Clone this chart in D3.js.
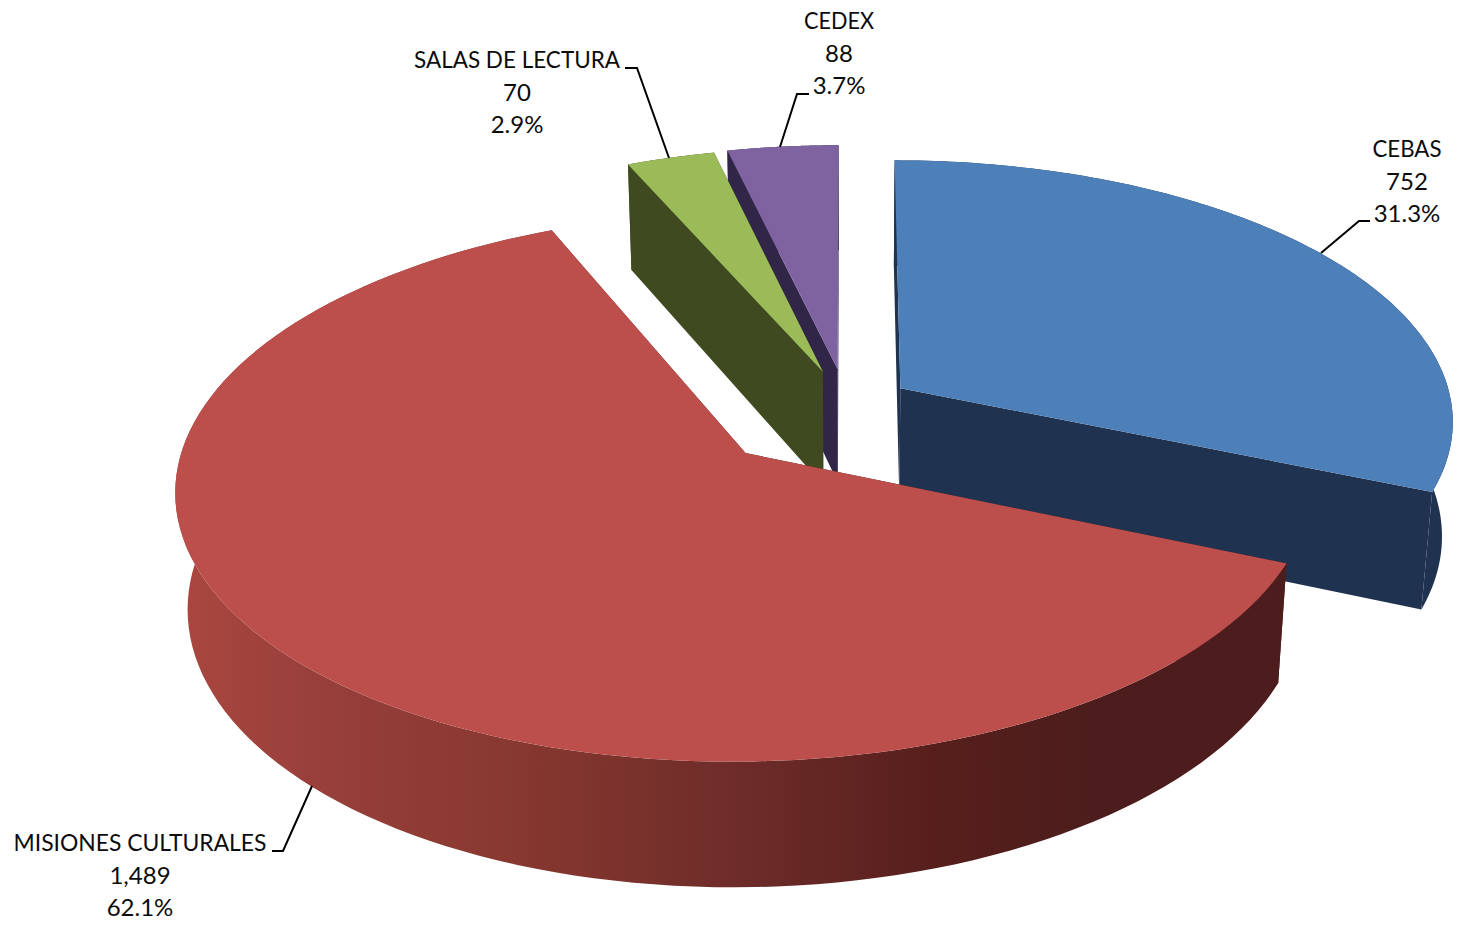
<!DOCTYPE html>
<html lang="en">
<head>
    <meta charset="UTF-8">
    <title>D3.js 3D Pie Chart</title>
    <script src="https://cdnjs.cloudflare.com/ajax/libs/d3/7.8.5/d3.min.js"></script>
    <style>
        body { margin: 0; background: white; }
        text { font-family: Lato, "Open Sans", sans-serif; font-size: 24px; fill: #0c0c0c; text-anchor: middle; }
    </style>
</head>
<body>
    <div id="chart"></div>

    <script>
        // Data
        const categories = ["CEBAS", "MISIONES CULTURALES", "SALAS DE LECTURA", "CEDEX"];
        const values = [752, 1489, 70, 88];

        // How far each slice is pulled out, in radii
        const explode = [0.118, 0.255, 0.137, 0.141];

        // Colours per slice
        const topColors = ["#4d7fb9", "#bc4f4c", "#9bbb59", "#7f63a1"];
        const wallColors = ["#1f3350", "#4c1d1c", "#3f4a20", "#312648"];

        // Label placement per slice: centre x, first baseline, name width, leader polyline
        const labelX = [1407, 140, 517, 839];
        const labelY = [157, 851, 68, 29];
        const nameWidth = [69, 253, 206, 70];
        const leaders = [
            [[1370, 221], [1359, 221], [1321, 253]],
            [[272, 851], [283, 851], [312, 786]],
            [[625, 68], [637, 68], [669, 158]],
            [[809, 94], [797, 94], [780, 147]]
        ];

        const width = 1458;
        const height = 931;

        // Perspective projection of the disc (radius 1, y towards the viewer, z 0 top, 1 bottom)
        const scaleX = d3.scaleLinear().domain([0, 1]).range([846.5, 846.5 + 552]);
        const scaleY = d3.scaleLinear().domain([0, 1]).range([405, 405 + 259]);
        const persp = 0.12;
        const shrink = 0.018;
        const thick = 0.45;

        function project(x, y, z) {
            const w = 1 - persp * y + shrink * z;
            return [scaleX(x / w), scaleY((y + thick * z) / w)];
        }

        const svg = d3.select("#chart").append("svg")
            .attr("width", width)
            .attr("height", height);

        // Rim shading for the big slice
        const grad = svg.append("defs").append("linearGradient")
            .attr("id", "redRim")
            .attr("gradientUnits", "userSpaceOnUse")
            .attr("x1", 190).attr("x2", 1285)
            .attr("y1", 0).attr("y2", 0);
        [[0, "#a8463f"], [0.12, "#983f3b"], [0.3, "#87382f"], [0.5, "#6e2c29"],
         [0.68, "#571f1c"], [0.82, "#4c1d1c"], [1, "#4c1d1c"]].forEach(s => {
            grad.append("stop").attr("offset", s[0]).attr("stop-color", s[1]);
        });

        const pie = d3.pie().sort(null).value(d => d);
        const slices = pie(values);
        const line = d3.line();
        const total = d3.sum(values);
        const pct = d3.format(".1%");
        const num = d3.format(",");

        // Back to front
        [3, 2, 0, 1].forEach(i => {
            const s = slices[i];
            const mid = (s.startAngle + s.endAngle) / 2;
            const ox = explode[i] * Math.sin(mid);
            const oy = -explode[i] * Math.cos(mid);
            const rim = a => [ox + Math.sin(a), oy - Math.cos(a)];
            const angles = d3.range(0, 121).map(k => s.startAngle + (s.endAngle - s.startAngle) * k / 120);
            const topArc = angles.map(a => project(...rim(a), 0));
            const botArc = angles.map(a => project(...rim(a), 1));
            const apexTop = project(ox, oy, 0);
            const apexBot = project(ox, oy, 1);
            const g = svg.append("g");

            // radial walls
            [angles[0], angles[120]].forEach(a => {
                g.append("path")
                    .attr("d", line([apexTop, project(...rim(a), 0), project(...rim(a), 1), apexBot]) + "Z")
                    .attr("fill", wallColors[i]);
            });

            // outer rim
            g.append("path")
                .attr("d", line(topArc.concat(botArc.slice().reverse())) + "Z")
                .attr("fill", i === 1 ? "url(#redRim)" : wallColors[i]);

            // top face
            g.append("path")
                .attr("d", line([apexTop].concat(topArc)) + "Z")
                .attr("fill", topColors[i]);
        });

        // Leaders
        svg.selectAll("path.leader")
            .data(leaders)
            .enter()
            .append("path")
            .attr("class", "leader")
            .attr("d", d => line(d))
            .attr("fill", "none")
            .attr("stroke", "black")
            .attr("stroke-width", 2);

        // Labels
        categories.forEach((c, i) => {
            [c, num(values[i]), pct(values[i] / total)].forEach((t, k) => {
                const label = svg.append("text")
                    .attr("x", labelX[i])
                    .attr("y", labelY[i] + k * 32.5)
                    .text(t);
                if (k === 0) {
                    label.attr("textLength", nameWidth[i]).attr("lengthAdjust", "spacingAndGlyphs");
                }
            });
        });
    </script>
</body>
</html>
